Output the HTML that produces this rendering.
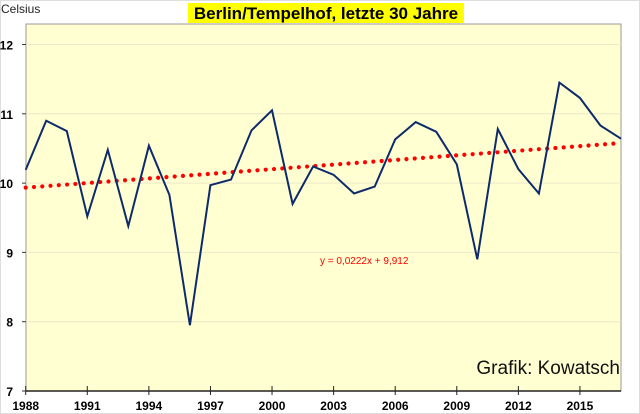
<!DOCTYPE html>
<html><head><meta charset="utf-8"><style>
body{margin:0;background:#fff}
svg{display:block;font-family:"Liberation Sans",sans-serif}
</style></head><body>
<svg width="640" height="414" viewBox="0 0 640 414">
<rect x="0.5" y="0.5" width="639" height="413" fill="#fff" stroke="#ddd"/>
<rect x="26" y="24" width="595" height="367" fill="#FFFFD2" stroke="#999" stroke-width="1"/>
<g id="grid"></g>
<g id="yt"></g>
<g id="xt"></g>
<path id="trend" fill="none" stroke="#f00" stroke-width="4.2" stroke-linecap="round" stroke-dasharray="0 8.3"/>
<path id="line" fill="none" stroke="#0d2a6b" stroke-width="2" stroke-linejoin="miter"/>
<rect x="188" y="3" width="276" height="20" fill="#ffff00"/>
<text x="326" y="19" text-anchor="middle" font-size="17" font-weight="bold">Berlin/Tempelhof, letzte 30 Jahre</text>
<text x="1" y="13" font-size="12" fill="#222">Celsius</text>
<text x="320" y="264" font-size="10" fill="#f00">y = 0,0222x + 9,912</text>
<text x="620" y="374" text-anchor="end" font-size="19" fill="#111">Grafik: Kowatsch</text>
</svg>
<script>
const years=[1988,1989,1990,1991,1992,1993,1994,1995,1996,1997,1998,1999,2000,2001,2002,2003,2004,2005,2006,2007,2008,2009,2010,2011,2012,2013,2014,2015,2016,2017];
const temps=[10.19,10.90,10.75,9.52,10.48,9.38,10.54,9.83,7.95,9.97,10.05,10.76,11.05,9.70,10.24,10.12,9.85,9.95,10.63,10.88,10.74,10.27,8.90,10.78,10.20,9.85,11.45,11.23,10.83,10.64];
const yTicks=[7,8,9,10,11,12];
const xTicks=[1988,1991,1994,1997,2000,2003,2006,2009,2012,2015];
const trendSlope=0.0222, trendIntercept=9.912;
const X=y=>25.7+(y-1988)*(621-25.7)/29;
const Y=v=>391-(v-7)*69.3;
const NS='http://www.w3.org/2000/svg';
function mk(t,a,p){const e=document.createElementNS(NS,t);for(const k in a)e.setAttribute(k,a[k]);p.appendChild(e);return e;}
const grid=document.getElementById('grid'),yt=document.getElementById('yt'),xt=document.getElementById('xt');
yTicks.forEach(v=>{
 if(v>7){const g=mk('line',{x1:26,x2:621,y1:Y(v),y2:Y(v),stroke:'#ece9c8','stroke-width':1},grid);
 
 }
 const tk=mk('line',{x1:22,x2:26,y1:Y(v),y2:Y(v),stroke:'#333'},yt);
 
 
 const t=mk('text',{x:13,y:Y(v)+5,'text-anchor':'end','font-size':12,'font-weight':'bold'},yt);
 t.textContent=v;
 
 
});
const ax=mk('line',{x1:26,x2:621,y1:391,y2:391,stroke:'#222','stroke-width':1.5},xt);


xTicks.forEach(y=>{
 const tk=mk('line',{x1:X(y),x2:X(y),y1:386,y2:395,stroke:'#222'},xt);
 
 
 const t=mk('text',{x:X(y),y:410,'text-anchor':'middle','font-size':12,'font-weight':'bold'},xt);
 t.textContent=y;
 
 
});
document.getElementById('line').setAttribute('d',years.map((y,i)=>(i?'L':'M')+X(y).toFixed(1)+','+Y(temps[i]).toFixed(1)).join(''));
const y0=years[0],y1=years[years.length-1];
document.getElementById('trend').setAttribute('d','M'+X(y0)+','+Y(trendIntercept+trendSlope)+'L'+X(y1)+','+Y(trendIntercept+trendSlope*years.length));
</script>
</body></html>
